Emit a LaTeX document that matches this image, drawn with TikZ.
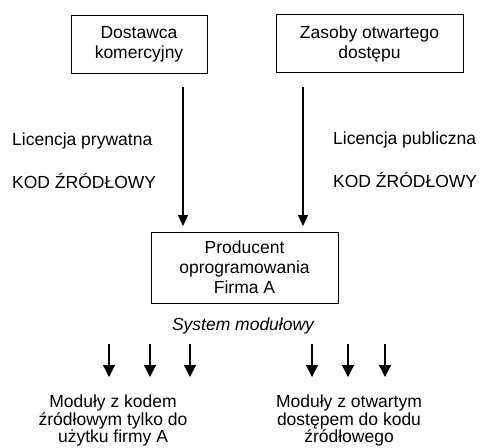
\documentclass[tikz,border=0pt]{standalone}
\usepackage{fontspec}
\setmainfont{Liberation Sans}
\usetikzlibrary{arrows.meta}
\begin{document}
\begin{tikzpicture}[x=1pt,y=-1pt,
  every node/.style={font=\fontsize{17.5}{20}\selectfont, inner sep=0pt},
  srcbox/.style={draw=black, line width=0.9pt, align=center},
  lbl/.style={anchor=west},
  bigarrow/.style={line width=1.2pt, -{Triangle[length=11pt,width=10pt]}},
  smallarrow/.style={line width=1.2pt, -{Triangle[length=12pt,width=12pt]}},
  modtext/.style={align=center, font=\fontsize{17.5}{17.3}\selectfont}]
\useasboundingbox (0,0) rectangle (481,447);
% boxes
\node[srcbox, minimum width=136pt, minimum height=58pt] (b1) at (139,44.5) {Dostawca\\komercyjny};
\node[srcbox, minimum width=187pt, minimum height=58pt] (b2) at (369.5,43.5) {Zasoby otwartego\\dostępu};
\node[srcbox, minimum width=187pt, minimum height=71pt] (b3) at (244.5,267.5) {Producent\\oprogramowania\\Firma A};
% labels
\node[lbl] (l1) at (12,141) {Licencja prywatna};
\node[lbl] (l2) at (12,181) {KOD ŹRÓDŁOWY};
\node[lbl] (r1) at (333,140) {Licencja publiczna};
\node[lbl] (r2) at (333,180) {KOD ŹRÓDŁOWY};
% main arrows
\coordinate (a1s) at (183,87);
\coordinate (a1e) at (183,226);
\coordinate (a2s) at (303,87);
\coordinate (a2e) at (303,226);
\draw[bigarrow] (a1s) -- (a1e);
\draw[bigarrow] (a2s) -- (a2e);
% system
\node (sys) at (243,326) {\itshape System modułowy};
\foreach \x [count=\i] in {109,150,190,312,348,385}{
  \coordinate (s\i) at (\x,344);
  \coordinate (e\i) at (\x,377);
  \draw[smallarrow] (s\i) -- (e\i);
}
\node[modtext, anchor=north] (m1) at (113,395) {Moduły z kodem\\źródłowym tylko do\\użytku firmy A};
\node[modtext, anchor=north] (m2) at (349,395) {Moduły z otwartym\\dostępem do kodu\\źródłowego};
\end{tikzpicture}
\end{document}
